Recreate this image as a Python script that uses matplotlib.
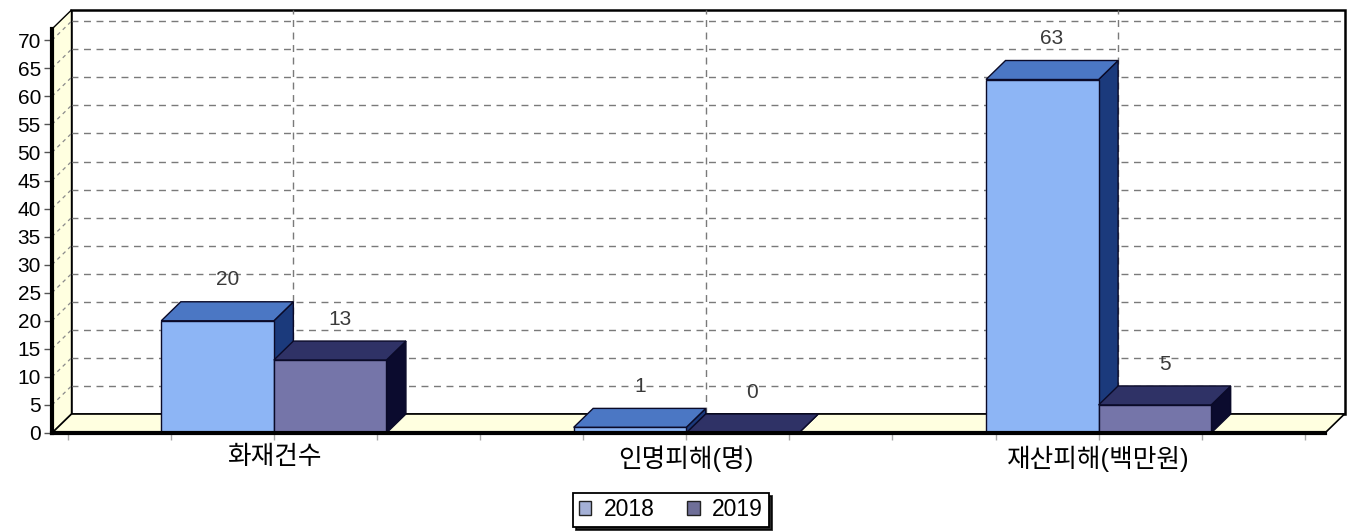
import numpy as np
import matplotlib.pyplot as plt
from matplotlib.patches import Polygon, Patch

plt.rcParams['font.family'] = ['Liberation Sans', 'Noto Sans CJK KR', 'DejaVu Sans']

categories = ['화재건수', '인명피해(명)', '재산피해(백만원)']
years = ['2018', '2019']
values_2018 = [20, 1, 63]
values_2019 = [13, 0, 5]
y_ticks = list(range(0, 71, 5))

# colours per series: front, top, side, legend swatch
face_colors = {
    '2018': ('#8db5f5', '#4b77c4', '#1b3a7c', '#a4b0d6'),
    '2019': ('#7575a9', '#2f3266', '#0b0b2e', '#6f6f98'),
}

W, H, DPI = 1352, 531, 100
fig = plt.figure(figsize=(W / DPI, H / DPI), dpi=DPI)

# front plane of the pseudo-3D box, in pixels
left_px, right_px, base_px, top_px = 52, 1325, 433, 29
ax = fig.add_axes([left_px / W, (H - base_px) / H,
                   (right_px - left_px) / W, (base_px - top_px) / H])
xmin, xmax, ymax = -0.538, 2.549, 72
ax.set_xlim(xmin, xmax)
ax.set_ylim(0, ymax)
ax.patch.set_visible(False)

# depth offset of the box (20 px right, 19 px up) in data units
px_x = (right_px - left_px) / (xmax - xmin)
px_y = (base_px - top_px) / ymax
dx, dy = 19.5 / px_x, 19.0 / px_y


def face(pts, fc, ec='black', lw=1.2, z=1):
    ax.add_patch(Polygon(pts, closed=True, facecolor=fc, edgecolor=ec,
                         linewidth=lw, clip_on=False, zorder=z))


# back wall, left wall, floor
face([(xmin + dx, dy), (xmax + dx, dy), (xmax + dx, ymax + dy), (xmin + dx, ymax + dy)],
     'white', lw=1.8, z=0.5)
face([(xmin, 0), (xmin + dx, dy), (xmin + dx, ymax + dy), (xmin, ymax)],
     '#ffffe0', lw=1.0, z=0.7)
face([(xmin, 0), (xmax, 0), (xmax + dx, dy), (xmin + dx, dy)],
     '#ffffe0', lw=1.2, z=0.8)

grid_kw = dict(colors='#7a7a7a', linestyles=(0, (5, 4)), linewidth=1.0,
               clip_on=False, zorder=0.6)
ax.hlines([v + dy for v in y_ticks[1:]], xmin + dx, xmax + dx, **grid_kw)
ax.vlines([i + dx for i in range(len(categories))], dy, ymax + dy, **grid_kw)
for v in y_ticks[1:]:
    ax.plot([xmin, xmin + dx], [v, v + dy], color='#8a8a8a', lw=0.9,
            ls=(0, (3, 3)), clip_on=False, zorder=0.75)

# bars
bar_w = 0.273
edge = '#0a0a28'
for k, (year, vals) in enumerate(zip(years, [values_2018, values_2019])):
    front, top, side, _ = face_colors[year]
    for i, v in enumerate(vals):
        l = i - bar_w + k * bar_w
        r = l + bar_w
        z = 2 + i + k * 0.1
        face([(r, 0), (r + dx, dy), (r + dx, v + dy), (r, v)], side, ec=edge, lw=1.0, z=z)
        face([(l, v), (r, v), (r + dx, v + dy), (l + dx, v + dy)], top, ec=edge, lw=1.0, z=z)
        if v > 0:
            face([(l, 0), (r, 0), (r, v), (l, v)], front, ec=edge, lw=1.0, z=z)
        ax.text((l + r) / 2 + dx / 2, v + dy + 3.9, str(v), ha='center', va='center',
                fontsize=15, color='#3a3a3a', zorder=10)

# axes, ticks
for s in ('top', 'right'):
    ax.spines[s].set_visible(False)
ax.spines['left'].set_linewidth(3)
ax.spines['bottom'].set_linewidth(3)
ax.spines['left'].set_zorder(9)
ax.spines['bottom'].set_zorder(9)

ax.set_yticks(y_ticks)
ax.set_yticklabels([str(v) for v in y_ticks])
ax.tick_params(axis='y', direction='out', length=6, width=1, color='#555555',
               labelsize=15, pad=2)

n = len(categories)
x_pos = np.arange(-0.5, n - 0.5 + 1e-9, 0.25)
x_lab = [categories[int(round(p))] if abs(p - round(p)) < 1e-9 else '' for p in x_pos]
ax.set_xticks(x_pos)
ax.set_xticklabels(x_lab)
ax.tick_params(axis='x', direction='out', length=5, width=1, color='#aaaaaa',
               labelsize=18.5, pad=4)

handles = [Patch(facecolor=face_colors[y][3], edgecolor='#222222', label=y) for y in years]
leg = fig.legend(handles=handles, loc='center', bbox_to_anchor=(671 / W, 1 - 510 / H),
                 ncol=2, frameon=True, fancybox=False, edgecolor='black',
                 shadow={'color': 'black', 'alpha': 0.85}, fontsize=16.5,
                 handlelength=0.55, handleheight=0.55, handletextpad=0.55,
                 columnspacing=1.4, borderpad=0.25, borderaxespad=0)
leg.get_frame().set_linewidth(1.3)

fig.savefig('out.png', dpi=DPI)
